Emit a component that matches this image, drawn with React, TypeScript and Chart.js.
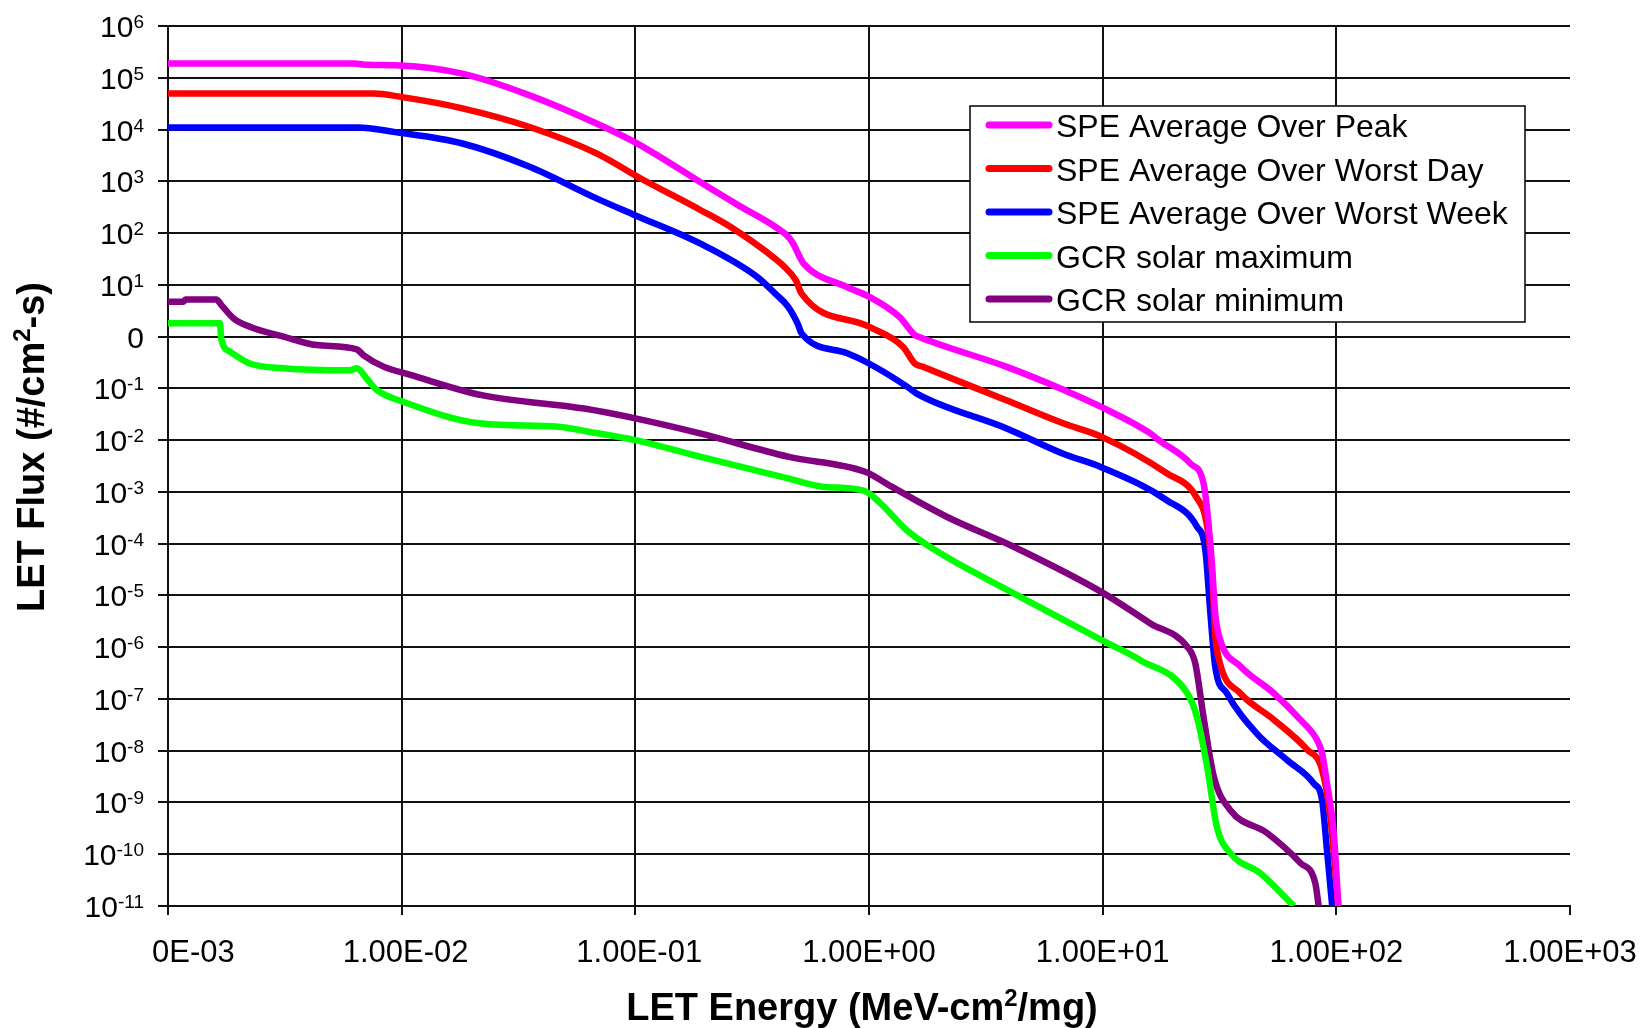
import React, { useEffect, useRef } from "react";
import { Chart, registerables } from "chart.js";

Chart.register(...registerables);

// LET energy (MeV-cm2/mg) and integral LET flux (#/cm2-s) for each environment
const peakX = [1.0e-3, 6.3e-3, 7.1e-3, 9.4e-3, 1.82e-2, 3.53e-2, 6.82e-2, 0.099, 0.205, 0.275, 0.397, 0.451, 0.473, 0.505, 0.525, 0.802, 1.0, 1.35, 1.57, 1.62, 3.86, 6.82, 9.86, 16.0, 17.4, 23.7, 27.0, 28.0, 29.4, 30.3, 31.8, 38.8, 54.0, 70.1, 82.6, 86.9, 91.2, 97.5, 102];
const peakY = [1.88e5, 1.88e5, 1.78e5, 1.74e5, 1.2e5, 4.57e4, 1.31e4, 5.75e3, 776, 347, 132, 85, 63, 34.7, 25.7, 9.1, 5.9, 2.4, 1.07, 1.0, 0.263, 0.0933, 0.0437, 0.0135, 0.01, 3.55e-3, 1.48e-3, 4.47e-4, 3.63e-5, 4.57e-6, 1.41e-6, 4.27e-7, 1.29e-7, 3.98e-8, 1.62e-8, 8.9e-9, 2.34e-9, 2.57e-10, 1.0e-11];

const dayX = [1.0e-3, 7.6e-3, 9.9e-3, 1.82e-2, 3.53e-2, 6.82e-2, 0.106, 0.189, 0.255, 0.403, 0.434, 0.486, 0.515, 1.0, 1.4, 1.57, 1.69, 3.87, 6.82, 9.86, 18.8, 25.1, 28.0, 29.4, 30.3, 31.8, 38.8, 54.0, 75.0, 86.9, 94.2, 102];
const dayY = [4.95e4, 4.95e4, 4.27e4, 2.57e4, 1.12e4, 3.47e3, 1.12e3, 282, 132, 30.2, 22.4, 12.3, 6.76, 1.55, 0.631, 0.302, 0.263, 0.0589, 0.0209, 0.0117, 2.29e-3, 8.1e-4, 2.14e-4, 2.63e-5, 1.82e-6, 4.79e-7, 1.29e-7, 3.98e-8, 1.05e-8, 4.27e-9, 5.4e-10, 1.0e-11];

const weekX = [1.0e-3, 6.5e-3, 9.4e-3, 1.82e-2, 3.53e-2, 6.82e-2, 0.099, 0.189, 0.333, 0.397, 0.451, 0.495, 0.515, 0.802, 1.0, 1.46, 1.6, 3.86, 6.82, 9.86, 18.8, 25.3, 27.5, 28.9, 30.3, 34.0, 45.7, 61.5, 80.0, 86.9, 91.2, 96.0];
const weekY = [1.1e4, 1.1e4, 8.9e3, 5.37e3, 1.91e3, 468, 224, 63, 14.1, 6.76, 3.76, 1.78, 1.15, 0.48, 0.302, 0.107, 0.0794, 0.017, 5.4e-3, 3.0e-3, 6.9e-4, 2.14e-4, 7.6e-5, 4.57e-6, 4.27e-7, 1.29e-7, 2.14e-8, 6.6e-9, 2.34e-9, 1.1e-9, 1.2e-10, 1.0e-11];

const gcrMaxX = [1.0e-3, 1.67e-3, 1.69e-3, 1.84e-3, 2.24e-3, 3.12e-3, 6.01e-3, 6.43e-3, 7.08e-3, 7.82e-3, 1.0e-2, 2.2e-2, 4.68e-2, 6.31e-2, 0.1, 0.189, 0.45, 0.631, 0.955, 1.12, 1.45, 2.02, 4.16, 9.86, 14.5, 23.0, 25.3, 28.0, 30.8, 35.2, 47.3, 65.8];
const gcrMaxY = [1.8, 1.8, 0.92, 0.513, 0.302, 0.245, 0.224, 0.245, 0.155, 0.0933, 0.0562, 0.0209, 0.0182, 0.0145, 0.01, 4.79e-3, 1.82e-3, 1.26e-3, 1.05e-3, 6.0e-4, 1.82e-4, 6.5e-5, 1.1e-5, 1.38e-6, 5.6e-7, 1.29e-7, 4.57e-8, 4.9e-9, 3.39e-10, 1.05e-10, 4.27e-11, 1.0e-11];

const gcrMinX = [1.0e-3, 1.16e-3, 1.19e-3, 1.61e-3, 1.69e-3, 1.91e-3, 2.24e-3, 3.12e-3, 4.34e-3, 6.43e-3, 6.85e-3, 8.36e-3, 1.09e-2, 2.2e-2, 6.03e-2, 0.1, 0.189, 0.45, 0.962, 1.12, 1.25, 2.15, 4.16, 9.86, 16.0, 23.0, 24.9, 27.0, 29.9, 35.2, 50.5, 70.1, 81.3, 84.0];
const gcrMinY = [4.7, 4.7, 5.2, 5.2, 4.1, 2.24, 1.55, 1.0, 0.685, 0.566, 0.44, 0.263, 0.182, 0.0741, 0.0407, 0.0263, 0.0135, 4.79e-3, 2.45e-3, 1.7e-3, 1.26e-3, 3.31e-4, 8.7e-5, 1.17e-5, 2.88e-6, 1.02e-6, 4.9e-7, 4.57e-8, 3.16e-9, 7.1e-10, 2.57e-10, 6.8e-11, 2.75e-11, 1.0e-11];

const seriesLabels = [
  "SPE Average Over Peak",
  "SPE Average Over Worst Day",
  "SPE Average Over Worst Week",
  "GCR solar maximum",
  "GCR solar minimum",
];
const seriesColors = ["#ff00ff", "#ff0000", "#0000ff", "#00ff00", "#800080"];
const seriesX = [peakX, dayX, weekX, gcrMaxX, gcrMinX];
const seriesY = [peakY, dayY, weekY, gcrMaxY, gcrMinY];

// Axis ticks
const xTickValues = [1e-3, 1e-2, 1e-1, 1e0, 1e1, 1e2, 1e3];
const xTickLabels = ["0E-03", "1.00E-02", "1.00E-01", "1.00E+00", "1.00E+01", "1.00E+02", "1.00E+03"];
const xGridValues = [1e-3, 1e-2, 1e-1, 1e0, 1e1, 1e2];
const yTickValues = [1e6, 1e5, 1e4, 1e3, 1e2, 1e1, 1e0, 1e-1, 1e-2, 1e-3, 1e-4, 1e-5, 1e-6, 1e-7, 1e-8, 1e-9, 1e-10, 1e-11];
const yTickBases = ["10", "10", "10", "10", "10", "10", "0", "10", "10", "10", "10", "10", "10", "10", "10", "10", "10", "10"];
const yTickExps = ["6", "5", "4", "3", "2", "1", "", "-1", "-2", "-3", "-4", "-5", "-6", "-7", "-8", "-9", "-10", "-11"];

const FONT = '"Liberation Sans", Arial, sans-serif';

const decorPlugin = {
  id: "decor",
  afterDraw(chart: any) {
    const ctx: CanvasRenderingContext2D = chart.ctx;
    const xs = chart.scales.x;
    const ys = chart.scales.y;
    const area = chart.chartArea;
    ctx.save();
    ctx.fillStyle = "#000";
    ctx.strokeStyle = "#111";
    ctx.lineWidth = 2;

    // outward tick marks
    ctx.beginPath();
    yTickValues.forEach((v) => {
      const y = Math.round(ys.getPixelForValue(v));
      ctx.moveTo(area.left - 10, y);
      ctx.lineTo(area.left, y);
    });
    xTickValues.forEach((v) => {
      const x = Math.round(xs.getPixelForValue(v));
      ctx.moveTo(x, area.bottom);
      ctx.lineTo(x, area.bottom + 9);
    });
    ctx.stroke();

    // y tick labels: 10 with raised exponent
    const labelRight = area.left - 24;
    ctx.textAlign = "right";
    ctx.textBaseline = "alphabetic";
    yTickValues.forEach((v, i) => {
      const y = ys.getPixelForValue(v);
      const exp = yTickExps[i];
      let right = labelRight;
      if (exp) {
        ctx.font = `19px ${FONT}`;
        ctx.fillText(exp, right, y + 2);
        right -= ctx.measureText(exp).width;
      }
      ctx.font = `30px ${FONT}`;
      ctx.fillText(yTickBases[i], right, y + 11);
    });

    // x tick labels, right edges aligned with a centred full-format label
    ctx.font = `31px ${FONT}`;
    const half = ctx.measureText("1.00E+00").width / 2;
    xTickValues.forEach((v, i) => {
      const x = xs.getPixelForValue(v);
      ctx.fillText(xTickLabels[i], x + half, area.bottom + 56);
    });

    // axis titles
    ctx.textAlign = "left";
    const drawTitle = (pre: string, sup: string, post: string, cx: number, base: number) => {
      ctx.font = `bold 38px ${FONT}`;
      const w1 = ctx.measureText(pre).width;
      const w3 = ctx.measureText(post).width;
      ctx.font = `bold 24px ${FONT}`;
      const w2 = ctx.measureText(sup).width;
      let x = cx - (w1 + w2 + w3) / 2;
      ctx.font = `bold 38px ${FONT}`;
      ctx.fillText(pre, x, base);
      x += w1;
      ctx.font = `bold 24px ${FONT}`;
      ctx.fillText(sup, x, base - 14);
      x += w2;
      ctx.font = `bold 38px ${FONT}`;
      ctx.fillText(post, x, base);
    };
    drawTitle("LET Energy (MeV-cm", "2", "/mg)", 862, 1020);
    ctx.save();
    ctx.translate(44, 447);
    ctx.rotate(-Math.PI / 2);
    drawTitle("LET Flux (#/cm", "2", "-s)", 0, 0);
    ctx.restore();

    // legend
    const lx = 970, ly = 106, lw = 555, lh = 216;
    ctx.fillStyle = "#fff";
    ctx.fillRect(lx, ly, lw, lh);
    ctx.strokeStyle = "#000";
    ctx.lineWidth = 1.5;
    ctx.strokeRect(lx, ly, lw, lh);
    chart.data.datasets.forEach((ds: any, i: number) => {
      const y = 125 + i * 43.5;
      ctx.strokeStyle = ds.borderColor;
      ctx.lineWidth = 7;
      ctx.lineCap = "round";
      ctx.beginPath();
      ctx.moveTo(989, y);
      ctx.lineTo(1049, y);
      ctx.stroke();
      ctx.fillStyle = "#000";
      ctx.font = `32px ${FONT}`;
      ctx.fillText(ds.label, 1056, y + 12);
    });
    ctx.restore();
  },
};

export default function App() {
  const canvasRef = useRef<HTMLCanvasElement | null>(null);

  useEffect(() => {
    document.body.style.margin = "0";
    const canvas = canvasRef.current;
    if (!canvas) return;
    const chart = new Chart(canvas, {
      type: "line",
      data: {
        datasets: seriesLabels.map((label, i) => ({
          label,
          data: seriesX[i].map((x, j) => ({ x, y: seriesY[i][j] })),
          borderColor: seriesColors[i],
          backgroundColor: seriesColors[i],
          borderWidth: 6.5,
          pointRadius: 0,
          fill: false,
          cubicInterpolationMode: "monotone" as const,
          borderJoinStyle: "round" as const,
        })),
      },
      options: {
        responsive: false,
        animation: false,
        devicePixelRatio: 1,
        parsing: false as any,
        layout: { padding: { left: 168, right: 78, top: 26, bottom: 122 } },
        plugins: { legend: { display: false }, tooltip: { enabled: false }, title: { display: false } },
        scales: {
          x: {
            type: "logarithmic",
            min: 1e-3,
            max: 1e3,
            afterBuildTicks: (scale: any) => {
              scale.ticks = xGridValues.map((value) => ({ value }));
            },
            ticks: { display: false },
            grid: { color: "#111", lineWidth: 2, drawTicks: false },
            border: { color: "#111", width: 2 },
          },
          y: {
            type: "logarithmic",
            min: 1e-11,
            max: 1e6,
            afterBuildTicks: (scale: any) => {
              scale.ticks = yTickValues.map((value) => ({ value }));
            },
            ticks: { display: false },
            grid: { color: "#111", lineWidth: 2, drawTicks: false },
            border: { color: "#111", width: 2 },
          },
        },
      },
      plugins: [decorPlugin],
    });
    return () => chart.destroy();
  }, []);

  return (
    <div style={{ width: 1648, height: 1028, background: "#fff" }}>
      <canvas ref={canvasRef} width={1648} height={1028} style={{ display: "block" }} />
    </div>
  );
}
